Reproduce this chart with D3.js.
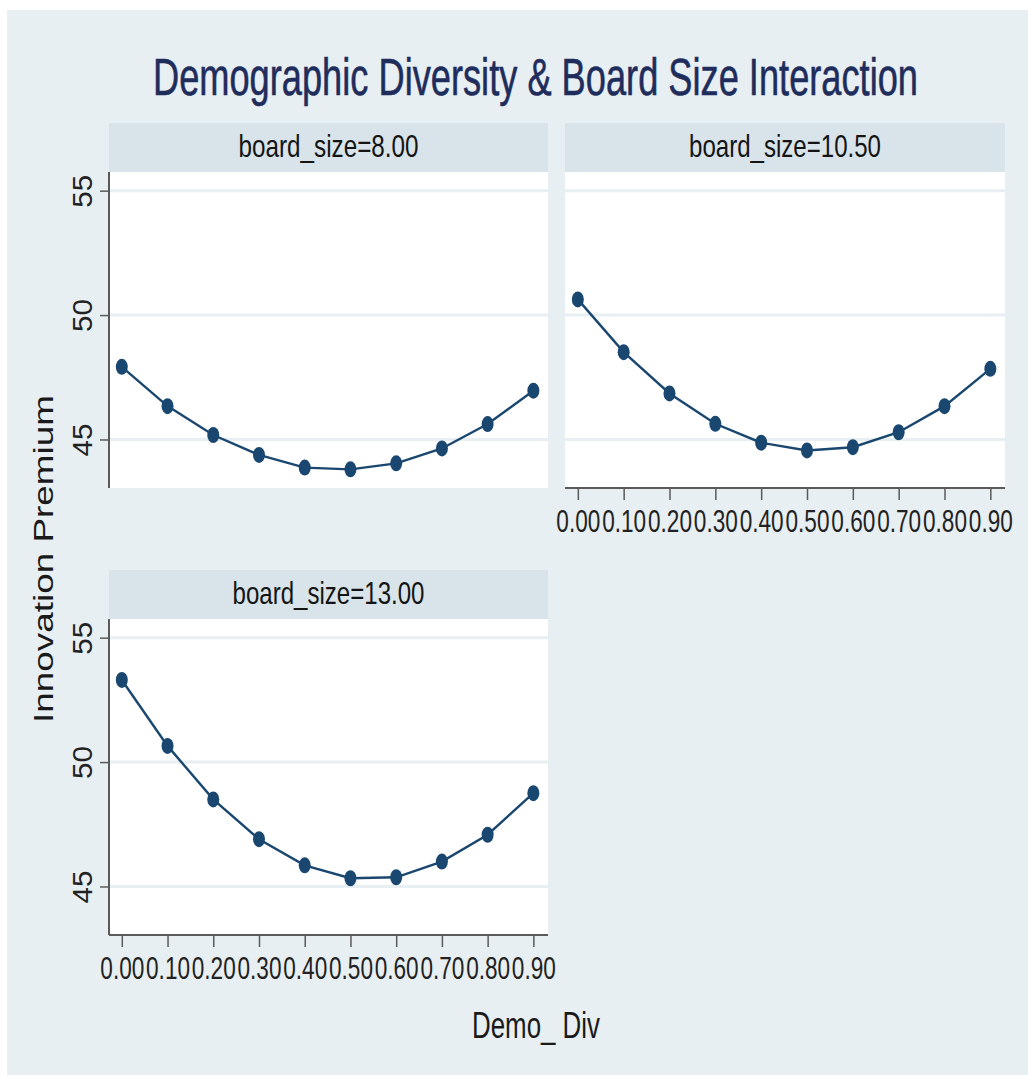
<!DOCTYPE html>
<html>
<head>
<meta charset="utf-8">
<script src="https://cdn.jsdelivr.net/npm/d3@7"></script>
<style>
  html, body { margin: 0; padding: 0; background: #ffffff; }
  svg { display: block; }
  text { font-family: "Liberation Sans", Arial, Helvetica, sans-serif; }
</style>
</head>
<body>
<svg id="chart" width="1028" height="1075"></svg>
<script>
// Demo_Div grid evaluated in every panel
const demoDiv = [0.0, 0.1, 0.2, 0.3, 0.4, 0.5, 0.6, 0.7, 0.8, 0.9];
const xTickLabels = ["0.00", "0.10", "0.20", "0.30", "0.40", "0.50", "0.60", "0.70", "0.80", "0.90"];
const yTicks = [45, 50, 55];
const panelTitles = ["board_size=8.00", "board_size=10.50", "board_size=13.00"];

// Predicted innovation premium at each board size
const premiumBoard8 = [47.92, 46.34, 45.18, 44.38, 43.87, 43.80, 44.04, 44.64, 45.62, 46.96];
const premiumBoard105 = [50.63, 48.51, 46.85, 45.63, 44.87, 44.56, 44.69, 45.29, 46.34, 47.84];
const premiumBoard13 = [53.30, 50.65, 48.50, 46.90, 45.85, 45.33, 45.37, 46.00, 47.08, 48.75];

const chartTitle = "Demographic Diversity & Board Size Interaction";
const xTitle = "Demo_ Div";
const yTitle = "Innovation Premium";

const navy = "#1a476f";
const svg = d3.select("#chart");

// graph region
svg.append("rect").attr("x", 7).attr("y", 10).attr("width", 1021).attr("height", 1065)
  .attr("fill", "#e8eff2");

// shared scales: one x range per column, one y range per row
const colRange = [[109, 548], [565, 1005]];
const rowRange = [[488, 172], [935, 619]];
const xDomain = [-0.028, 0.932];
const yDomain = [43.05, 55.75];

const panels = [
  { title: panelTitles[0], values: premiumBoard8, col: 0, row: 0, yAxis: true, xAxis: false, titleLen: 180 },
  { title: panelTitles[1], values: premiumBoard105, col: 1, row: 0, yAxis: false, xAxis: true, titleLen: 192 },
  { title: panelTitles[2], values: premiumBoard13, col: 0, row: 1, yAxis: true, xAxis: true, titleLen: 192 }
];

panels.forEach(p => {
  const x = d3.scaleLinear().domain(xDomain).range(colRange[p.col]);
  const y = d3.scaleLinear().domain(yDomain).range(rowRange[p.row]);
  const [x0, x1] = x.range();
  const [yb, yt] = y.range();
  const g = svg.append("g");

  // facet strip
  g.append("rect").attr("x", x0).attr("y", yt - 49).attr("width", x1 - x0).attr("height", 49)
    .attr("fill", "#d8e4ea");
  g.append("text").attr("x", (x0 + x1) / 2).attr("y", yt - 15)
    .attr("text-anchor", "middle").attr("font-size", 32).attr("fill", "#141414")
    .attr("textLength", p.titleLen).attr("lengthAdjust", "spacingAndGlyphs")
    .text(p.title);

  // plot region
  g.append("rect").attr("x", x0).attr("y", yt).attr("width", x1 - x0).attr("height", yb - yt)
    .attr("fill", "#ffffff");

  // gridlines
  g.selectAll(".grid").data(yTicks).join("line")
    .attr("x1", x0).attr("x2", x1)
    .attr("y1", d => y(d)).attr("y2", d => y(d))
    .attr("stroke", "#e7eff2").attr("stroke-width", 3);

  // y axis
  if (p.yAxis) {
    const ya = g.append("g").attr("transform", `translate(${x0},0)`)
      .call(d3.axisLeft(y).tickValues(yTicks).tickSize(9).tickFormat(d3.format("d")));
    ya.select(".domain").attr("d", `M0,${yt}V${yb}`).attr("stroke", "#5a5a5a").attr("stroke-width", 2);
    ya.selectAll(".tick line").attr("stroke", "#5a5a5a").attr("stroke-width", 1.5);
    ya.selectAll(".tick text").remove();
    ya.selectAll(".tick").append("text")
      .attr("transform", "translate(-17,0) rotate(-90)")
      .attr("text-anchor", "middle").attr("dy", 0)
      .attr("font-size", 27).attr("fill", "#222")
      .attr("textLength", 33).attr("lengthAdjust", "spacingAndGlyphs")
      .text(d => d);
  }

  // x axis
  if (p.xAxis) {
    const xa = g.append("g").attr("transform", `translate(0,${yb})`)
      .call(d3.axisBottom(x).tickValues(demoDiv).tickSize(12)
        .tickFormat((d, i) => xTickLabels[i]));
    xa.select(".domain").attr("d", `M${x0},0H${x1}`).attr("stroke", "#5a5a5a").attr("stroke-width", 2);
    xa.selectAll(".tick line").attr("stroke", "#5a5a5a").attr("stroke-width", 1.5);
    xa.selectAll(".tick text").attr("y", 44).attr("dy", 0)
      .attr("font-size", 32).attr("fill", "#222")
      .attr("textLength", 44).attr("lengthAdjust", "spacingAndGlyphs")
      .attr("font-family", "\"Liberation Sans\", Arial, sans-serif");
  }

  // connected fitted values
  const pts = demoDiv.map((d, i) => [d, p.values[i]]);
  g.append("path").datum(pts)
    .attr("d", d3.line().x(d => x(d[0])).y(d => y(d[1])))
    .attr("fill", "none").attr("stroke", navy).attr("stroke-width", 2.4);
  g.selectAll(".pt").data(pts).join("ellipse")
    .attr("cx", d => x(d[0])).attr("cy", d => y(d[1]))
    .attr("rx", 6).attr("ry", 8).attr("fill", navy);
});

// titles
svg.append("text").attr("x", 535.5).attr("y", 95)
  .attr("text-anchor", "middle").attr("font-size", 51).attr("fill", "#1f2d5c")
  .attr("stroke", "#1f2d5c").attr("stroke-width", 0.6)
  .attr("textLength", 765).attr("lengthAdjust", "spacingAndGlyphs")
  .text(chartTitle);

svg.append("text").attr("x", 536).attr("y", 1038)
  .attr("text-anchor", "middle").attr("font-size", 36).attr("fill", "#1a1a1a")
  .attr("textLength", 128).attr("lengthAdjust", "spacingAndGlyphs")
  .text(xTitle);

svg.append("text").attr("transform", "translate(53,559) rotate(-90)")
  .attr("text-anchor", "middle").attr("font-size", 27).attr("fill", "#1a1a1a")
  .attr("textLength", 328).attr("lengthAdjust", "spacingAndGlyphs")
  .text(yTitle);
</script>
</body>
</html>
